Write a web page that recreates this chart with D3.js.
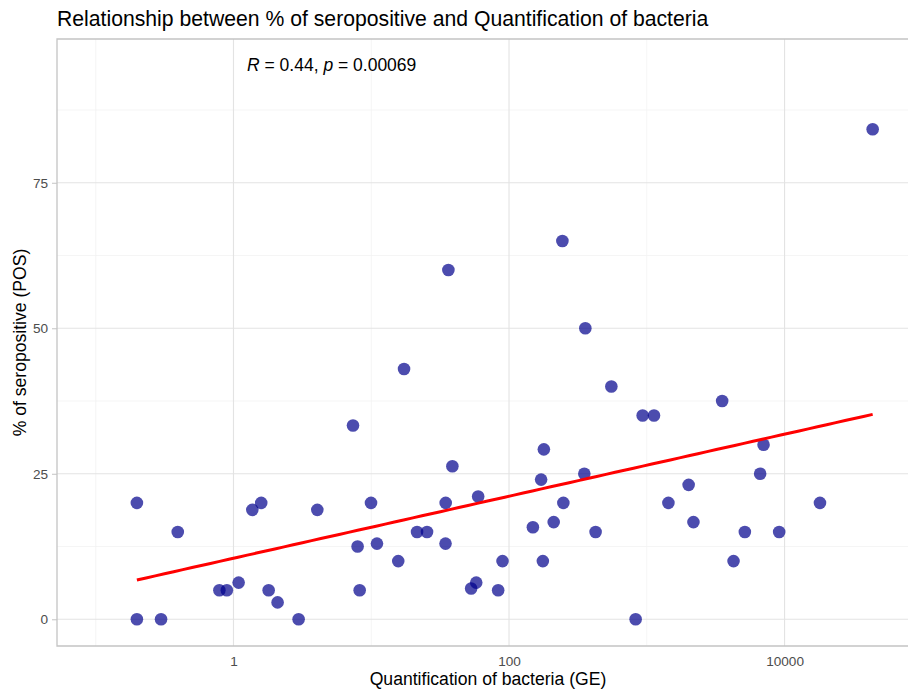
<!DOCTYPE html>
<html>
<head>
<meta charset="utf-8">
<script src="https://cdn.jsdelivr.net/npm/d3@7"></script>
<style>
  html, body { margin: 0; padding: 0; background: #fff; }
  svg { display: block; font-family: "Liberation Sans", Arial, sans-serif; }
</style>
</head>
<body>
<svg id="chart" width="908" height="690"></svg>
<script>
// Bacterial load (genome equivalents) per sample
const bacteriaGE = [
  0.199, 0.199, 0.298, 0.394, 0.79, 0.895, 1.09, 1.37, 1.59, 1.80,
  2.09, 2.97, 4.06, 7.37, 7.96, 8.24, 9.96, 11.0, 15.7, 17.3,
  21.5, 25.4, 34.7, 34.6, 36.3, 38.8, 53.1, 57.8, 59.7, 83.4,
  89.7, 149, 171, 176, 179, 211, 244, 248, 352, 358,
  425, 553, 830, 933, 1128, 1435, 2013, 2181, 3524, 4263,
  5150, 6650, 7038, 9140, 18070, 43600
];
// Share of seropositive subjects (%) for the same samples
const seropositivePct = [
  20, 0, 0, 15, 5, 5, 6.3, 18.8, 20, 5,
  2.9, 0, 18.8, 33.3, 12.5, 5, 20, 13, 10, 43,
  15, 15, 20, 13, 60, 26.3, 5.3, 6.3, 21.1, 5,
  10, 15.8, 24, 10, 29.2, 16.7, 65, 20, 25, 50,
  15, 40, 0, 35, 35, 20, 23.1, 16.7, 37.5, 10,
  15, 25, 30, 15, 20, 84.2
];
const xTicks = [1, 100, 10000];
const xMinorTicks = [0.1, 10, 1000, 100000];
const yTicks = [0, 25, 50, 75];
const yMinorTicks = [12.5, 37.5, 62.5, 87.5];
const titleText = "Relationship between % of seropositive and Quantification of bacteria";
const xLabel = "Quantification of bacteria (GE)";
const yLabel = "% of seropositive (POS)";

const svg = d3.select("#chart");
const W = 908, H = 690;
const m = { left: 57, right: 0, top: 39, bottom: 44 };
const x0 = m.left, x1 = W - m.right, y0 = m.top, y1 = H - m.bottom;

const x = d3.scaleLog().domain([Math.pow(10, -1.281), Math.pow(10, 4.896)]).range([x0, x1]);
const y = d3.scaleLinear().domain([-4.59, 99.7]).range([y1, y0]);

const data = bacteriaGE.map((g, i) => ({ g, p: seropositivePct[i] }));

// grid
const grid = svg.append("g");
grid.selectAll(".ymin").data(yMinorTicks).join("line")
  .attr("x1", x0).attr("x2", x1).attr("y1", d => y(d)).attr("y2", d => y(d))
  .attr("stroke", "#f2f2f2").attr("stroke-width", 0.8);
grid.selectAll(".xmin").data(xMinorTicks.filter(d => x(d) <= x1)).join("line")
  .attr("y1", y0).attr("y2", y1).attr("x1", d => x(d)).attr("x2", d => x(d))
  .attr("stroke", "#f2f2f2").attr("stroke-width", 0.8);
grid.selectAll(".ymaj").data(yTicks).join("line")
  .attr("x1", x0).attr("x2", x1).attr("y1", d => y(d)).attr("y2", d => y(d))
  .attr("stroke", "#e3e3e3").attr("stroke-width", 1.1);
grid.selectAll(".xmaj").data(xTicks).join("line")
  .attr("y1", y0).attr("y2", y1).attr("x1", d => x(d)).attr("x2", d => x(d))
  .attr("stroke", "#e3e3e3").attr("stroke-width", 1.1);

// panel border (top, left, bottom)
svg.append("path")
  .attr("d", `M${x1},${y0}H${x0}V${y1}H${x1}`)
  .attr("fill", "none").attr("stroke", "#c4c4c4").attr("stroke-width", 1.3);

// axes
const xAxis = svg.append("g").attr("transform", `translate(0,${y1})`)
  .call(d3.axisBottom(x).tickValues(xTicks).tickFormat(d3.format("d")).tickSize(0).tickPadding(10));
const yAxis = svg.append("g").attr("transform", `translate(${x0},0)`)
  .call(d3.axisLeft(y).tickValues(yTicks).tickSize(5).tickPadding(4));
[xAxis, yAxis].forEach(a => {
  a.select(".domain").remove();
  a.selectAll("line").attr("stroke", "#c4c4c4");
  a.selectAll("text").attr("fill", "#4d4d4d").attr("font-size", 13.6)
    .attr("font-family", "'Liberation Sans', Arial, sans-serif");
});

// regression of % seropositive on log10(GE)
const lx = data.map(d => Math.log10(d.g));
const n = lx.length;
const mx = d3.mean(lx), my = d3.mean(seropositivePct);
let sxy = 0, sxx = 0;
for (let i = 0; i < n; i++) { sxy += (lx[i] - mx) * (seropositivePct[i] - my); sxx += (lx[i] - mx) ** 2; }
const slope = sxy / sxx, intercept = my - slope * mx;
const [gMin, gMax] = d3.extent(bacteriaGE);
const fit = d3.range(0, 81).map(k => {
  const lg = Math.log10(gMin) + (Math.log10(gMax) - Math.log10(gMin)) * k / 80;
  return { g: Math.pow(10, lg), p: intercept + slope * lg };
});

// points
svg.append("g").selectAll("circle").data(data).join("circle")
  .attr("cx", d => x(d.g)).attr("cy", d => y(d.p)).attr("r", 6.3)
  .attr("fill", "#00008B").attr("fill-opacity", 0.7);

svg.append("path").datum(fit)
  .attr("d", d3.line().x(d => x(d.g)).y(d => y(d.p)))
  .attr("fill", "none").attr("stroke", "#ff0000").attr("stroke-width", 3);

// correlation annotation
const ann = svg.append("text").attr("x", 247).attr("y", 71)
  .attr("font-size", 17.5).attr("fill", "#000");
ann.append("tspan").attr("font-style", "italic").text("R");
ann.append("tspan").text(" = 0.44, ");
ann.append("tspan").attr("font-style", "italic").text("p");
ann.append("tspan").text(" = 0.00069");

// titles
svg.append("text").attr("x", x0).attr("y", 26).attr("font-size", 21.2).attr("fill", "#000").text(titleText);
svg.append("text").attr("x", 488).attr("y", 685).attr("text-anchor", "middle")
  .attr("font-size", 17.6).attr("fill", "#000").text(xLabel);
svg.append("text").attr("transform", `translate(25.5,${(y0 + y1) / 2}) rotate(-90)`)
  .attr("text-anchor", "middle").attr("font-size", 17.6).attr("fill", "#000").text(yLabel);
</script>
</body>
</html>
